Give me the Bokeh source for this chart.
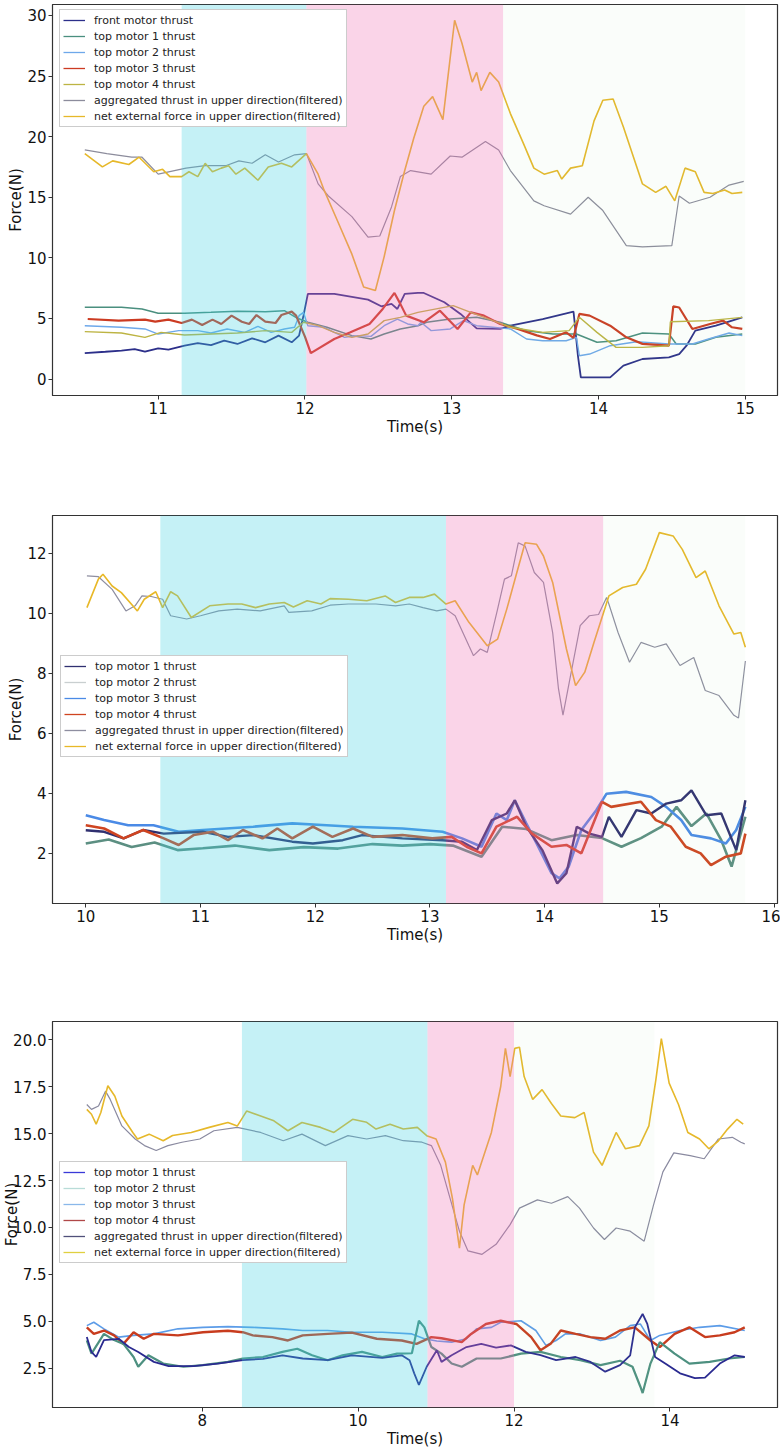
import numpy as np
from bokeh.plotting import figure
from bokeh.layouts import column
from bokeh.models import (BoxAnnotation, Legend, LegendItem, FixedTicker,
                          PrintfTickFormatter, Range1d)
from bokeh.embed import file_html
from bokeh.resources import INLINE

FONT = "DejaVu Sans"

# ---------------- Panel 1 data (time s, force N) ----------------
p1_front = [(10.50,2.14),(10.64,2.25),(10.75,2.34),(10.84,2.47),(10.91,2.25),(11.00,2.53),(11.07,2.42),(11.18,2.75),(11.27,2.97),(11.36,2.80),(11.45,3.16),(11.54,2.89),(11.64,3.36),(11.73,3.03),(11.82,3.58),(11.91,3.03),(11.96,3.58),(11.99,5.23),(12.02,7.02),(12.20,7.02),(12.43,6.55),(12.52,6.00),(12.59,6.20),(12.63,5.78),(12.68,7.02),(12.77,7.10),(12.81,7.10),(12.95,6.33),(13.06,5.37),(13.17,4.18),(13.33,4.13),(13.40,4.40),(13.62,4.95),(13.83,5.56),(13.84,4.40),(13.86,1.92),(13.88,0.13),(14.08,0.13),(14.17,1.10),(14.30,1.65),(14.48,1.79),(14.55,2.06),(14.60,2.75),(14.66,3.99),(14.80,4.40),(14.91,4.82),(14.98,5.09)]
p1_m1 = [(10.50,5.92),(10.75,5.92),(10.89,5.78),(11.00,5.42),(11.18,5.42),(11.36,5.50),(11.54,5.59),(11.73,5.56),(11.86,5.64),(11.95,5.01),(12.02,4.68),(12.15,4.27),(12.32,3.58),(12.45,3.30),(12.54,3.71),(12.65,4.13),(12.77,4.40),(12.83,4.68),(12.99,4.95),(13.17,5.09),(13.33,4.68),(13.51,3.99),(13.69,3.71),(13.85,3.71),(13.99,3.03),(14.12,3.16),(14.30,3.80),(14.48,3.71),(14.53,2.89),(14.66,2.89),(14.80,3.44),(14.98,3.71)]
p1_m2 = [(10.50,4.40),(10.75,4.27),(10.91,4.13),(11.00,3.71),(11.14,3.99),(11.27,3.99),(11.36,3.80),(11.47,4.13),(11.59,3.85),(11.68,4.35),(11.77,3.85),(11.86,4.13),(11.93,4.27),(11.96,5.23),(11.99,5.50),(12.02,4.40),(12.13,4.27),(12.27,3.44),(12.36,3.58),(12.45,3.52),(12.54,4.40),(12.63,4.95),(12.70,4.54),(12.77,4.40),(12.79,4.68),(12.86,3.99),(12.99,4.13),(13.08,4.82),(13.17,4.40),(13.28,4.27),(13.40,4.13),(13.51,3.30),(13.62,3.16),(13.78,3.16),(13.85,3.44),(13.87,1.92),(13.94,2.06),(14.08,2.75),(14.26,3.08),(14.48,2.89),(14.64,2.89),(14.75,3.30),(14.89,3.80),(14.98,3.58)]
p1_m3 = [(10.52,4.95),(10.73,4.82),(10.91,4.90),(10.98,4.73),(11.07,4.90),(11.16,4.62),(11.23,4.90),(11.30,4.46),(11.37,4.90),(11.43,4.54),(11.50,5.23),(11.57,4.73),(11.62,4.54),(11.67,5.28),(11.73,4.73),(11.80,4.62),(11.84,5.28),(11.91,5.56),(11.94,5.23),(12.00,3.50),(12.04,2.14),(12.20,3.30),(12.31,3.85),(12.44,4.54),(12.53,5.78),(12.61,7.10),(12.65,6.20),(12.69,5.23),(12.81,4.68),(12.92,5.64),(13.04,4.13),(13.13,5.50),(13.22,5.23),(13.33,4.54),(13.45,4.13),(13.58,3.60),(13.67,3.30),(13.78,3.85),(13.83,3.40),(13.87,5.37),(13.94,5.23),(14.08,4.40),(14.19,3.44),(14.30,2.90),(14.48,2.75),(14.51,6.00),(14.55,5.90),(14.64,4.13),(14.76,4.54),(14.85,4.82),(14.91,4.27),(14.98,4.13)]
p1_m4 = [(10.50,3.91),(10.75,3.80),(10.91,3.44),(11.02,3.85),(11.18,3.63),(11.36,3.71),(11.54,3.80),(11.73,3.99),(11.91,3.85),(11.99,4.68),(12.09,4.40),(12.20,3.85),(12.32,3.44),(12.43,3.71),(12.54,4.82),(12.65,5.09),(12.77,5.50),(13.01,6.06),(13.13,5.50),(13.28,4.82),(13.40,4.27),(13.62,3.85),(13.80,3.99),(13.87,5.09),(13.99,3.85),(14.12,2.61),(14.30,2.61),(14.48,2.75),(14.49,4.73),(14.75,4.82),(14.98,5.09)]
p1_agg = [(10.50,18.9),(10.65,18.6),(10.82,18.3),(10.89,18.3),(11.00,16.9),(11.19,17.4),(11.32,17.6),(11.46,17.6),(11.55,18.0),(11.64,17.8),(11.73,18.5),(11.82,17.9),(11.93,18.5),(12.01,18.6),(12.09,16.1),(12.16,15.1),(12.32,13.4),(12.43,11.7),(12.51,11.8),(12.59,14.2),(12.65,16.7),(12.72,17.2),(12.86,16.9),(12.99,18.4),(13.07,18.3),(13.23,19.6),(13.32,18.9),(13.40,17.2),(13.56,14.7),(13.63,14.3),(13.81,13.6),(13.93,15.0),(14.03,13.9),(14.19,11.0),(14.30,10.9),(14.50,11.0),(14.55,15.1),(14.62,14.5),(14.76,15.0),(14.89,16.0),(14.99,16.3)]
p1_net = [(10.50,18.6),(10.62,17.5),(10.69,18.0),(10.80,17.7),(10.87,18.3),(10.97,17.1),(11.03,17.3),(11.08,16.7),(11.16,16.7),(11.21,17.1),(11.27,16.7),(11.32,17.8),(11.37,17.1),(11.43,17.4),(11.48,17.6),(11.53,16.9),(11.59,17.4),(11.68,16.4),(11.75,17.5),(11.84,17.8),(11.91,17.5),(12.01,18.6),(12.09,16.9),(12.13,15.6),(12.22,13.1),(12.32,10.3),(12.40,7.6),(12.48,7.3),(12.54,10.1),(12.61,13.9),(12.68,17.2),(12.74,19.8),(12.81,22.5),(12.87,23.3),(12.94,21.4),(13.02,29.6),(13.07,27.7),(13.14,24.5),(13.17,25.3),(13.20,23.8),(13.26,25.3),(13.32,24.5),(13.40,21.9),(13.49,19.4),(13.56,17.4),(13.63,16.9),(13.72,17.2),(13.75,16.5),(13.81,17.4),(13.89,17.6),(13.97,21.3),(14.03,23.0),(14.10,23.1),(14.17,20.8),(14.30,16.1),(14.39,15.4),(14.46,15.9),(14.52,14.7),(14.59,17.4),(14.66,17.1),(14.72,15.4),(14.78,15.3),(14.86,15.6),(14.91,15.3),(14.98,15.4)]
p1_bands = [11.16, 12.01, 13.35, 15.0]

# ---------------- Panel 2 data ----------------
p2_m1 = [(10.0,2.76),(10.16,2.71),(10.33,2.49),(10.5,2.77),(10.68,2.65),(11.02,2.71),(11.24,2.54),(11.46,2.6),(11.8,2.38),(11.98,2.32),(12.24,2.43),(12.41,2.6),(12.76,2.49),(13.11,2.43),(13.28,2.38),(13.41,2.1),(13.54,3.1),(13.67,3.32),(13.74,3.76),(13.84,2.88),(13.98,2.1),(14.11,0.99),(14.19,1.33),(14.28,2.88),(14.39,2.65),(14.5,2.54),(14.56,3.21),(14.67,2.54),(14.8,3.43),(14.93,3.32),(15.06,3.65),(15.19,3.76),(15.28,4.09),(15.41,3.26),(15.54,3.32),(15.67,2.1),(15.75,3.76)]
p2_m2 = [(10.0,2.32),(10.2,2.45),(10.4,2.2),(10.6,2.35),(10.8,2.1),(11.02,2.16),(11.3,2.25),(11.6,2.1),(11.9,2.2),(12.2,2.15),(12.5,2.3),(12.76,2.25),(13.0,2.3),(13.2,2.25),(13.45,1.88),(13.63,2.88),(13.84,2.8),(14.06,2.43),(14.28,2.6),(14.5,2.5),(14.67,2.21),(14.84,2.5),(15.02,2.88),(15.15,3.54),(15.28,2.9),(15.41,3.32),(15.54,2.43),(15.63,1.55),(15.75,3.21)]
p2_m3 = [(10.0,3.26),(10.16,3.1),(10.37,2.93),(10.59,2.93),(10.81,2.71),(11.02,2.77),(11.46,2.88),(11.8,2.99),(12.1,2.93),(12.33,2.88),(12.76,2.82),(13.11,2.71),(13.28,2.49),(13.45,2.21),(13.58,3.32),(13.67,3.1),(13.74,3.76),(13.84,2.99),(13.93,2.32),(14.06,1.33),(14.13,1.16),(14.21,1.55),(14.32,2.77),(14.45,3.43),(14.54,3.98),(14.71,4.04),(14.93,3.87),(15.06,3.54),(15.19,3.1),(15.28,2.6),(15.45,2.49),(15.58,2.32),(15.67,2.77),(15.75,3.54)]
p2_m4 = [(10.0,2.93),(10.16,2.82),(10.33,2.49),(10.5,2.77),(10.68,2.49),(10.81,2.27),(10.94,2.6),(11.11,2.71),(11.24,2.43),(11.37,2.77),(11.54,2.49),(11.67,2.82),(11.8,2.49),(11.98,2.88),(12.15,2.54),(12.33,2.82),(12.5,2.54),(12.76,2.6),(13.02,2.49),(13.19,2.54),(13.32,2.21),(13.45,1.99),(13.58,2.88),(13.76,3.21),(13.89,2.65),(14.06,2.21),(14.19,2.27),(14.32,1.99),(14.5,3.71),(14.58,3.54),(14.84,3.71),(14.97,3.1),(15.1,2.88),(15.23,2.21),(15.36,1.99),(15.45,1.6),(15.58,1.88),(15.71,1.99),(15.75,2.65)]
p2_agg = [(10.01,11.24),(10.11,11.21),(10.23,10.79),(10.35,10.07),(10.43,10.24),(10.49,10.57),(10.57,10.55),(10.67,10.46),(10.74,9.91),(10.88,9.80),(11.00,9.91),(11.16,10.07),(11.32,10.13),(11.52,10.07),(11.73,10.24),(11.77,10.02),(11.97,10.07),(12.13,10.26),(12.29,10.30),(12.53,10.30),(12.70,10.24),(12.82,10.30),(12.94,10.18),(13.06,10.07),(13.14,10.13),(13.22,9.91),(13.26,9.58),(13.34,8.91),(13.38,8.58),(13.44,8.80),(13.50,8.69),(13.59,10.13),(13.65,11.13),(13.71,11.24),(13.77,12.34),(13.83,12.23),(13.91,11.35),(13.99,11.02),(14.07,9.35),(14.12,7.5),(14.16,6.6),(14.22,7.8),(14.31,9.58),(14.39,9.91),(14.47,9.95),(14.54,10.52),(14.56,10.30),(14.64,9.35),(14.74,8.36),(14.84,9.02),(14.96,8.86),(15.06,8.97),(15.18,8.25),(15.30,8.52),(15.40,7.42),(15.52,7.25),(15.65,6.59),(15.69,6.5),(15.75,8.4)]
p2_net = [(10.01,10.18),(10.11,11.13),(10.15,11.29),(10.23,10.9),(10.31,10.68),(10.45,10.07),(10.51,10.46),(10.61,10.71),(10.67,10.18),(10.74,10.71),(10.80,10.57),(10.92,9.85),(11.08,10.24),(11.24,10.30),(11.36,10.30),(11.48,10.18),(11.60,10.30),(11.73,10.35),(11.81,10.20),(11.93,10.41),(12.05,10.30),(12.13,10.48),(12.29,10.46),(12.45,10.41),(12.61,10.57),(12.70,10.35),(12.82,10.52),(12.94,10.52),(13.04,10.63),(13.14,10.30),(13.22,10.41),(13.34,9.69),(13.50,8.91),(13.59,9.13),(13.67,10.13),(13.75,11.24),(13.83,12.34),(13.93,12.29),(13.99,11.90),(14.07,11.02),(14.19,8.80),(14.27,7.58),(14.35,8.03),(14.43,9.02),(14.56,10.57),(14.68,10.85),(14.80,10.96),(14.88,11.46),(15.00,12.68),(15.12,12.57),(15.20,12.12),(15.32,11.18),(15.40,11.40),(15.52,10.24),(15.65,9.30),(15.71,9.35),(15.75,8.86)]
p2_bands = [10.65, 13.14, 14.51, 15.75]

# ---------------- Panel 3 data ----------------
p3_m1 = [(6.52,4.16),(6.58,3.37),(6.64,3.10),(6.74,4.0),(6.93,4.07),(7.06,3.63),(7.18,3.37),(7.38,2.84),(7.57,2.61),(7.89,2.61),(8.20,2.75),(8.52,2.93),(8.78,3.0),(9.03,3.19),(9.29,3.02),(9.61,2.93),(9.92,3.19),(10.31,3.05),(10.56,3.19),(10.66,2.93),(10.72,2.23),(10.78,1.61),(10.88,2.58),(11.01,3.46),(11.07,2.84),(11.20,3.19),(11.39,3.63),(11.58,3.80),(11.77,3.6),(11.96,3.72),(12.15,3.37),(12.34,3.2),(12.54,2.93),(12.79,3.1),(12.98,2.84),(13.17,2.32),(13.36,2.67),(13.49,3.19),(13.55,4.68),(13.65,5.39),(13.71,4.86),(13.81,3.10),(13.94,2.75),(14.13,2.23),(14.32,1.97),(14.45,2.0),(14.64,2.75),(14.83,3.19),(14.96,3.10)]
p3_m2 = [(6.52,3.98),(6.58,3.28),(6.74,4.33),(6.87,4.0),(6.99,3.80),(7.12,3.10),(7.18,2.58),(7.31,3.19),(7.50,2.75),(7.76,2.58),(8.01,2.67),(8.33,2.84),(8.52,3.02),(8.78,3.10),(9.03,3.37),(9.22,3.54),(9.41,3.19),(9.61,2.93),(9.80,3.19),(10.05,3.37),(10.31,3.10),(10.50,3.28),(10.69,3.3),(10.78,5.03),(10.85,4.68),(10.94,3.63),(11.07,3.28),(11.20,2.75),(11.33,2.58),(11.52,3.02),(11.83,3.02),(12.09,3.28),(12.34,3.37),(12.60,3.1),(12.85,2.93),(13.11,2.67),(13.36,2.9),(13.52,2.58),(13.62,1.53),(13.65,1.18),(13.75,2.75),(13.87,3.89),(14.06,3.28),(14.25,2.75),(14.51,2.84),(14.76,3.02),(14.96,3.10)]
p3_m3 = [(6.52,4.77),(6.61,4.95),(6.74,4.60),(6.93,4.16),(7.12,4.25),(7.38,4.33),(7.69,4.60),(8.01,4.68),(8.33,4.72),(8.65,4.68),(9.03,4.60),(9.29,4.51),(9.61,4.51),(9.92,4.42),(10.31,4.42),(10.69,4.33),(10.85,4.07),(11.01,3.95),(11.20,3.89),(11.39,4.07),(11.52,4.60),(11.71,4.68),(11.83,4.95),(12.09,5.03),(12.28,4.51),(12.41,3.72),(12.54,3.98),(12.66,4.33),(12.85,4.33),(13.11,3.98),(13.30,4.16),(13.49,4.77),(13.62,4.86),(13.75,3.98),(13.87,4.25),(14.13,4.51),(14.38,4.68),(14.64,4.77),(14.96,4.51)]
p3_m4 = [(6.52,4.68),(6.61,4.33),(6.74,4.51),(6.87,4.25),(6.99,3.80),(7.12,4.42),(7.25,4.07),(7.38,4.33),(7.69,4.25),(8.01,4.42),(8.33,4.5),(8.52,4.42),(8.65,4.25),(8.90,4.16),(9.10,3.98),(9.29,4.25),(9.61,4.33),(9.92,4.4),(10.24,4.07),(10.56,3.98),(10.75,3.80),(10.94,4.16),(11.07,4.1),(11.33,3.89),(11.45,4.33),(11.64,4.86),(11.83,5.03),(12.03,4.86),(12.22,4.16),(12.34,3.46),(12.47,3.80),(12.60,4.51),(12.79,4.33),(12.98,4.16),(13.17,4.07),(13.36,4.51),(13.55,4.68),(13.75,3.98),(13.87,3.63),(14.06,4.33),(14.25,4.68),(14.45,4.16),(14.64,4.25),(14.83,4.42),(14.96,4.68)]
p3_agg = [(6.52,16.55),(6.58,16.29),(6.67,16.47),(6.76,17.26),(6.82,16.82),(6.97,15.41),(7.14,14.71),(7.26,14.36),(7.41,14.10),(7.56,14.36),(7.74,14.54),(7.97,14.71),(8.15,15.15),(8.45,15.33),(8.75,15.06),(9.04,14.62),(9.28,14.97),(9.58,14.36),(9.87,14.89),(10.11,14.71),(10.35,14.89),(10.58,14.62),(10.82,14.54),(10.94,14.36),(11.06,13.31),(11.18,11.55),(11.30,9.80),(11.41,8.75),(11.59,8.57),(11.77,9.10),(11.95,10.15),(12.07,11.03),(12.30,11.47),(12.48,11.29),(12.69,11.64),(12.84,11.03),(13.02,9.97),(13.16,9.36),(13.31,9.97),(13.49,9.80),(13.67,9.27),(13.79,11.20),(13.91,12.96),(14.05,13.97),(14.26,13.83),(14.44,13.66),(14.62,14.71),(14.80,14.80),(14.91,14.54),(14.96,14.45)]
p3_net = [(6.52,16.29),(6.58,16.03),(6.64,15.50),(6.70,16.12),(6.79,17.55),(6.88,16.99),(6.97,15.94),(7.11,15.06),(7.17,14.71),(7.32,14.97),(7.50,14.62),(7.62,14.9),(7.86,15.06),(8.09,15.33),(8.33,15.59),(8.45,15.4),(8.57,16.20),(8.75,15.94),(8.92,15.68),(9.10,15.15),(9.28,15.59),(9.52,15.33),(9.69,15.06),(9.93,15.76),(10.11,15.6),(10.23,15.24),(10.41,15.5),(10.58,15.24),(10.76,15.33),(10.88,14.89),(11.00,14.71),(11.12,13.48),(11.21,11.55),(11.30,8.9),(11.36,11.20),(11.47,13.31),(11.53,12.8),(11.71,15.06),(11.83,17.52),(11.89,19.54),(11.95,18.04),(12.01,19.54),(12.07,19.60),(12.13,18.04),(12.24,16.82),(12.36,17.34),(12.48,16.6),(12.60,15.94),(12.78,15.85),(12.90,16.12),(13.02,14.01),(13.13,13.31),(13.31,15.06),(13.43,14.19),(13.61,14.36),(13.73,15.41),(13.82,17.87),(13.89,20.06),(13.99,17.69),(14.11,16.55),(14.23,15.06),(14.38,14.71),(14.50,14.19),(14.62,14.6),(14.74,15.24),(14.86,15.76),(14.94,15.50)]
p3_bands = [8.51, 10.89, 12.0, 13.8]

LBL_AGG = "aggregated thrust in upper direction(filtered)"
LBL_NET = "net external force in upper direction(filtered)"

CYAN, PINK, FAINT = "#3fd0e2", "#f070b4", "#9ad89a"


def make_fig(xr, yr, height, top, left, bottom, xticks, yticks, ylab_standoff):
    p = figure(width=780, height=height, x_range=Range1d(*xr), y_range=Range1d(*yr),
               output_backend="svg", toolbar_location=None,
               min_border_top=top, min_border_left=left, min_border_right=3,
               min_border_bottom=bottom, background_fill_color="white")
    p.grid.visible = False
    p.outline_line_color = "#333333"
    p.outline_line_width = 1.2
    for ax in (p.xaxis[0], p.yaxis[0]):
        ax.axis_line_color = "#333333"
        ax.major_tick_out = 4
        ax.major_tick_in = 0
        ax.minor_tick_out = 0
        ax.minor_tick_in = 0
        ax.major_tick_line_color = "#333333"
        ax.major_label_text_font = FONT
        ax.major_label_text_font_size = "15px"
        ax.major_label_text_color = "#111111"
        ax.major_label_standoff = 2
        ax.axis_label_text_font = FONT
        ax.axis_label_text_font_size = "15px"
        ax.axis_label_text_font_style = "normal"
        ax.axis_label_text_color = "#111111"
    p.xaxis.ticker = FixedTicker(ticks=xticks)
    p.yaxis.ticker = FixedTicker(ticks=yticks)
    p.xaxis.axis_label = "Time(s)"
    p.xaxis.axis_label_standoff = 1
    p.yaxis.axis_label = "Force(N)"
    p.yaxis.axis_label_standoff = ylab_standoff
    return p


def draw(p, pairs, color, width):
    t = [a for a, _ in pairs]
    v = [b for _, b in pairs]
    return p.line(t, v, line_color=color, line_width=width)


def add_bands(p, edges):
    a, b, c, d = edges
    p.add_layout(BoxAnnotation(left=a, right=b, fill_color=CYAN, fill_alpha=0.30, line_alpha=0))
    p.add_layout(BoxAnnotation(left=b, right=c, fill_color=PINK, fill_alpha=0.30, line_alpha=0))
    p.add_layout(BoxAnnotation(left=c, right=d, fill_color=FAINT, fill_alpha=0.05, line_alpha=0))


def add_legend(p, entries, loc):
    items = []
    for label, color in entries:
        proxy = p.line(x=[np.nan], y=[np.nan], line_color=color, line_width=1.3)
        items.append(LegendItem(label=label, renderers=[proxy]))
    lg = Legend(items=items, location=loc, label_text_font=FONT, label_text_font_size="11px",
                label_text_color="#222222", label_height=14, glyph_height=14, glyph_width=22,
                spacing=2, padding=3, margin=0, label_standoff=9,
                border_line_color="#9a9a9a", border_line_width=1,
                background_fill_color="white", background_fill_alpha=1.0)
    p.add_layout(lg, "center")


# ---------------- Panel 1 ----------------
p1 = make_fig((10.28, 15.22), (-1.36, 30.9), 438, 4, 50, 42,
              [11, 12, 13, 14, 15], [0, 5, 10, 15, 20, 25, 30], -1)
c1 = dict(front="#2c2f8a", m1="#4a8f7f", m2="#6ea8ea", m3="#cc3b22", m4="#bdb443",
          agg="#8c8c9c", net="#e6b82a")
draw(p1, p1_front, c1["front"], 1.8)
draw(p1, p1_m1, c1["m1"], 1.5)
draw(p1, p1_m2, c1["m2"], 1.4)
draw(p1, p1_m3, c1["m3"], 2.2)
draw(p1, p1_m4, c1["m4"], 1.4)
draw(p1, p1_agg, c1["agg"], 1.2)
draw(p1, p1_net, c1["net"], 1.6)
add_bands(p1, p1_bands)
add_legend(p1, [("front motor thrust", c1["front"]), ("top motor 1 thrust", c1["m1"]),
                ("top motor 2 thrust", c1["m2"]), ("top motor 3 thrust", c1["m3"]),
                ("top motor 4 thrust", c1["m4"]), (LBL_AGG, c1["agg"]), (LBL_NET, c1["net"])],
           (7, 268))

# ---------------- Panel 2 ----------------
p2 = make_fig((9.71, 16.03), (0.32, 13.25), 508, 77, 49, 42,
              [10, 11, 12, 13, 14, 15, 16], [2, 4, 6, 8, 10, 12], -1)
c2 = dict(m1="#303070", m2="#5c8f82", m3="#4a8ae6", m4="#cf4420", agg="#8e8ea0", net="#e8b828")
draw(p2, p2_m2, c2["m2"], 2.6)
draw(p2, p2_m3, c2["m3"], 2.6)
draw(p2, p2_m1, c2["m1"], 2.4)
draw(p2, p2_m4, c2["m4"], 2.6)
draw(p2, p2_agg, c2["agg"], 1.2)
draw(p2, p2_net, c2["net"], 1.6)
add_bands(p2, p2_bands)
add_legend(p2, [("top motor 1 thrust", c2["m1"]), ("top motor 2 thrust", "#c9cfd0"),
                ("top motor 3 thrust", c2["m3"]), ("top motor 4 thrust", c2["m4"]),
                (LBL_AGG, c2["agg"]), (LBL_NET, c2["net"])], (8, 146))

# ---------------- Panel 3 ----------------
p3 = make_fig((6.08, 15.38), (0.41, 20.97), 504, 75, 48, 38,
              [8, 10, 12, 14], [2.5, 5.0, 7.5, 10.0, 12.5, 15.0, 17.5, 20.0], -11)
p3.yaxis.formatter = PrintfTickFormatter(format="%.1f")
c3 = dict(m1="#2a2a90", m2="#4d9080", m3="#5c9ce8", m4="#c83c1e", agg="#8a8aa0", net="#e6b82a")
draw(p3, p3_m3, c3["m3"], 1.6)
draw(p3, p3_m4, c3["m4"], 2.4)
draw(p3, p3_m2, c3["m2"], 2.2)
draw(p3, p3_m1, c3["m1"], 1.8)
draw(p3, p3_agg, c3["agg"], 1.2)
draw(p3, p3_net, c3["net"], 1.6)
add_bands(p3, p3_bands)
add_legend(p3, [("top motor 1 thrust", "#3a3ad8"), ("top motor 2 thrust", "#b8dcd8"),
                ("top motor 3 thrust", "#8ab8ea"), ("top motor 4 thrust", "#b04848"),
                (LBL_AGG, "#50507a"), (LBL_NET, "#e0d040")], (7, 144))

layout = column(p1, p2, p3)
open("out.html", "w").write(file_html(layout, INLINE))
